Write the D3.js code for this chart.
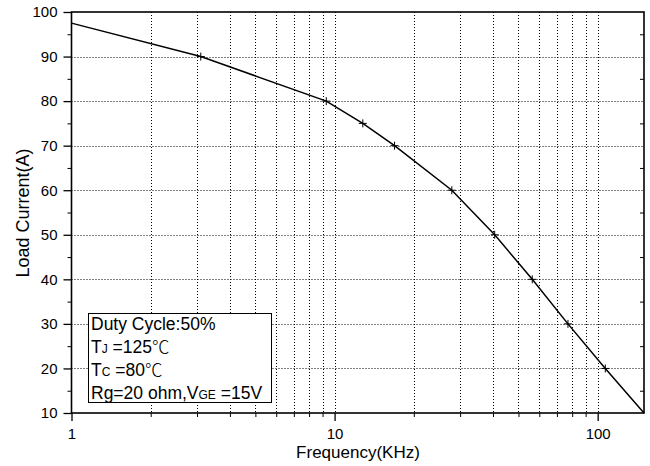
<!DOCTYPE html>
<html>
<head>
<meta charset="utf-8">
<script src="https://cdn.jsdelivr.net/npm/d3@7"></script>
<style>
  html, body { margin: 0; padding: 0; background: #fff; }
  svg { display: block; font-family: "Liberation Sans", Arial, sans-serif; }
</style>
</head>
<body>
<svg id="chart" width="650" height="466"></svg>
<script>
// ---- data ----
const frequency = [1, 3.1, 9.3, 12.8, 16.9, 27.9, 40.6, 56.4, 77.1, 106.9, 150];
const loadCurrent = [97.5, 90, 80, 75, 70, 60, 50, 40, 30, 20, 10];
const markerIdx = [1, 2, 3, 4, 5, 6, 7, 8, 9];
const xMajorTicks = [1, 10, 100];
const xMinorTicks = [2, 3, 4, 5, 6, 7, 8, 9, 20, 30, 40, 50, 60, 70, 80, 90];
const xGrid = [2, 3, 4, 5, 6, 7, 8, 9, 10, 20, 30, 40, 50, 60, 70, 80, 90, 100];
const yMajorTicks = [10, 20, 30, 40, 50, 60, 70, 80, 90, 100];
const yMinorTicks = [15, 25, 35, 45, 55, 65, 75, 85, 95];
const yGrid = [20, 30, 40, 50, 60, 70, 80, 90];
const xTitle = "Frequency(KHz)";
const yTitle = "Load Current(A)";

// ---- layout ----
const L = 71.5, R = 644, T = 12, B = 413;
const svg = d3.select("#chart");
const x = d3.scaleLog().domain([1, 150]).range([L, R]);
const y = d3.scaleLinear().domain([10, 100]).range([B, T]);
const px = v => Math.round(x(v)) + 0.5;
const py = v => Math.round(y(v)) + 0.5;

// grid
const grid = svg.append("g").attr("stroke", "#000").attr("stroke-width", 1).attr("stroke-dasharray", "1,2");
grid.selectAll("line.gx").data(xGrid).join("line")
  .attr("x1", d => px(d)).attr("x2", d => px(d)).attr("y1", T).attr("y2", B);
grid.selectAll("line.gy").data(yGrid).join("line")
  .attr("y1", d => py(d)).attr("y2", d => py(d)).attr("x1", L).attr("x2", R);

// bottom axis
const gx = svg.append("g").attr("transform", `translate(0,${B})`);
gx.call(d3.axisBottom(x).tickValues(xMajorTicks).tickFormat(d3.format("d")).tickSize(8).tickPadding(7))
  .call(g => g.select(".domain").remove());
gx.selectAll(".tick text").attr("font-size", 15).attr("font-family", "Liberation Sans, Arial, sans-serif").attr("fill", "#000");
gx.selectAll(".tick line").attr("stroke", "#000").attr("stroke-width", 1.3);
svg.append("g").attr("transform", `translate(0,${B})`)
  .call(d3.axisBottom(x).tickValues(xMinorTicks).tickFormat("").tickSize(4))
  .call(g => g.select(".domain").remove())
  .selectAll(".tick line").attr("stroke", "#000");

// left axis
const gy = svg.append("g").attr("transform", `translate(${L},0)`);
gy.call(d3.axisLeft(y).tickValues(yMajorTicks).tickFormat(d3.format("d")).tickSize(8).tickPadding(6))
  .call(g => g.select(".domain").remove());
gy.selectAll(".tick text").attr("font-size", 15).attr("font-family", "Liberation Sans, Arial, sans-serif").attr("fill", "#000");
gy.selectAll(".tick line").attr("stroke", "#000").attr("stroke-width", 1.3);
svg.append("g").attr("transform", `translate(${L},0)`)
  .call(d3.axisLeft(y).tickValues(yMinorTicks).tickFormat("").tickSize(4))
  .call(g => g.select(".domain").remove())
  .selectAll(".tick line").attr("stroke", "#000");

// right axis (inward ticks)
svg.append("g").attr("transform", `translate(${R},0)`)
  .call(d3.axisLeft(y).tickValues(yMinorTicks).tickFormat("").tickSize(4))
  .call(g => g.select(".domain").remove())
  .selectAll(".tick line").attr("stroke", "#000");

// frame
svg.append("rect").attr("x", L).attr("y", T).attr("width", R - L).attr("height", B - T)
  .attr("fill", "none").attr("stroke", "#000").attr("stroke-width", 1.6);

// legend box
const lg = svg.append("g");
lg.append("rect").attr("x", 88.5).attr("y", 313.5).attr("width", 183).attr("height", 89)
  .attr("fill", "#fff").attr("stroke", "#000").attr("stroke-width", 1);
const lx = 91;
const fs = 17.5, sub = 12;
lg.append("text").attr("x", lx).attr("y", 330).attr("font-size", fs).text("Duty Cycle:50%");
const t2 = lg.append("text").attr("x", lx).attr("y", 353).attr("font-size", fs);
t2.append("tspan").text("T");
t2.append("tspan").attr("font-size", sub).text("J");
t2.append("tspan").text(" =125");
t2.append("tspan").attr("font-family", "Noto Sans CJK SC").attr("font-weight", 300).text("℃");
const t3 = lg.append("text").attr("x", lx).attr("y", 376).attr("font-size", fs);
t3.append("tspan").text("T");
t3.append("tspan").attr("font-size", sub).text("C");
t3.append("tspan").text(" =80");
t3.append("tspan").attr("font-family", "Noto Sans CJK SC").attr("font-weight", 300).text("℃");
const t4 = lg.append("text").attr("x", lx).attr("y", 399).attr("font-size", fs);
t4.append("tspan").text("Rg=20 ohm,V");
t4.append("tspan").attr("font-size", sub).text("GE");
t4.append("tspan").text(" =15V");

// curve
const pts = frequency.map((f, i) => [f, loadCurrent[i]]);
svg.append("path").datum(pts)
  .attr("d", d3.line().x(d => x(d[0])).y(d => y(d[1])))
  .attr("fill", "none").attr("stroke", "#000").attr("stroke-width", 1.5);

// markers
const mk = markerIdx.map(i => pts[i]);
svg.append("g").selectAll("path").data(mk).join("path")
  .attr("d", d => {
    const cx = x(d[0]), cy = y(d[1]);
    return `M${cx - 4},${cy}H${cx + 4}M${cx},${cy - 4}V${cy + 4}`;
  })
  .attr("stroke", "#000").attr("stroke-width", 1).attr("fill", "none");

// titles
svg.append("text").attr("x", 358).attr("y", 458).attr("text-anchor", "middle")
  .attr("font-size", 17).text(xTitle);
svg.append("text").attr("transform", "translate(29,213) rotate(-90)").attr("text-anchor", "middle")
  .attr("font-size", 18).text(yTitle);
</script>
</body>
</html>
